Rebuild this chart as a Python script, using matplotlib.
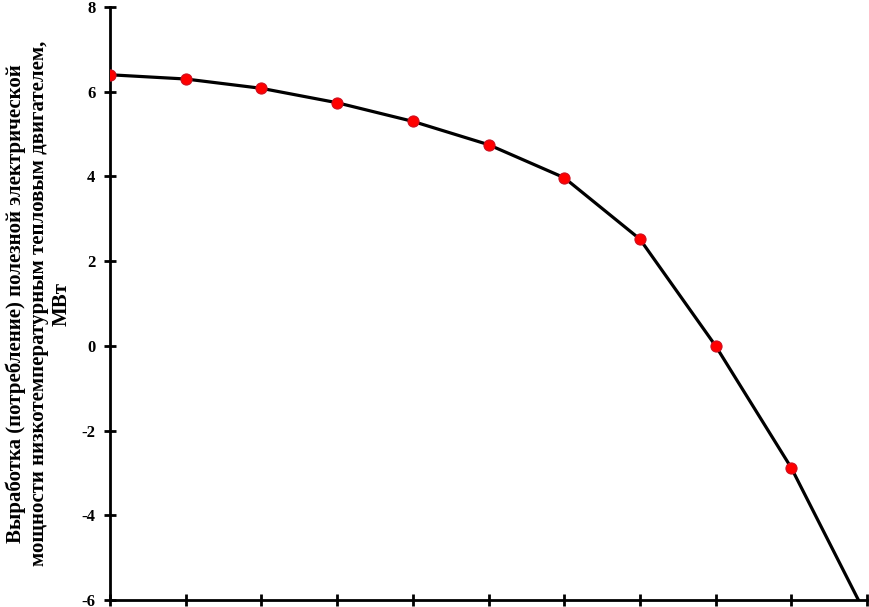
import matplotlib
matplotlib.use("Agg")
import matplotlib.pyplot as plt

# values (x positions are just the point index)
x_vals = [0, 1, 2, 3, 4, 5, 6, 7, 8, 9, 10]
power = [6.4, 6.3, 6.08, 5.74, 5.3, 4.75, 3.97, 2.52, 0.0, -2.88, -6.4]
y_ticks = [-6, -4, -2, 0, 2, 4, 6, 8]

plt.rcParams['font.family'] = ['Liberation Serif', 'DejaVu Serif']
plt.rcParams['font.weight'] = 'bold'
plt.rcParams['axes.unicode_minus'] = False

fig = plt.figure(figsize=(8.7, 6.07), dpi=100)
ax = fig.add_axes([110 / 870, 7 / 607, 757 / 870, 593 / 607])

ax.plot(x_vals, power, color='black', linewidth=2.3, zorder=2)
ax.plot(x_vals, power, linestyle='none', marker='o', markersize=8,
        markerfacecolor='#ff0000', markeredgecolor='#cc1020',
        markeredgewidth=0.8, zorder=3)

ax.set_xlim(0, 10)
ax.set_ylim(-6, 8)
ax.set_yticks(y_ticks)
ax.set_yticklabels([str(t) for t in y_ticks], fontsize=12, fontweight='bold')
ax.set_xticks(x_vals)
ax.set_xticklabels([])

for side in ['top', 'right']:
    ax.spines[side].set_visible(False)
for side in ['left', 'bottom']:
    ax.spines[side].set_linewidth(2)
ax.tick_params(axis='both', direction='inout', length=9, width=2, pad=6)

# y label: three lines, centred on the axis
ax.set_ylabel("Выработка (потребление) полезной электрической\n"
              "мощности низкотемпературным тепловым двигателем,\n"
              "МВт", fontsize=15, fontweight='bold', linespacing=1.2,
              labelpad=7)

fig.savefig("out.png", dpi=100)
